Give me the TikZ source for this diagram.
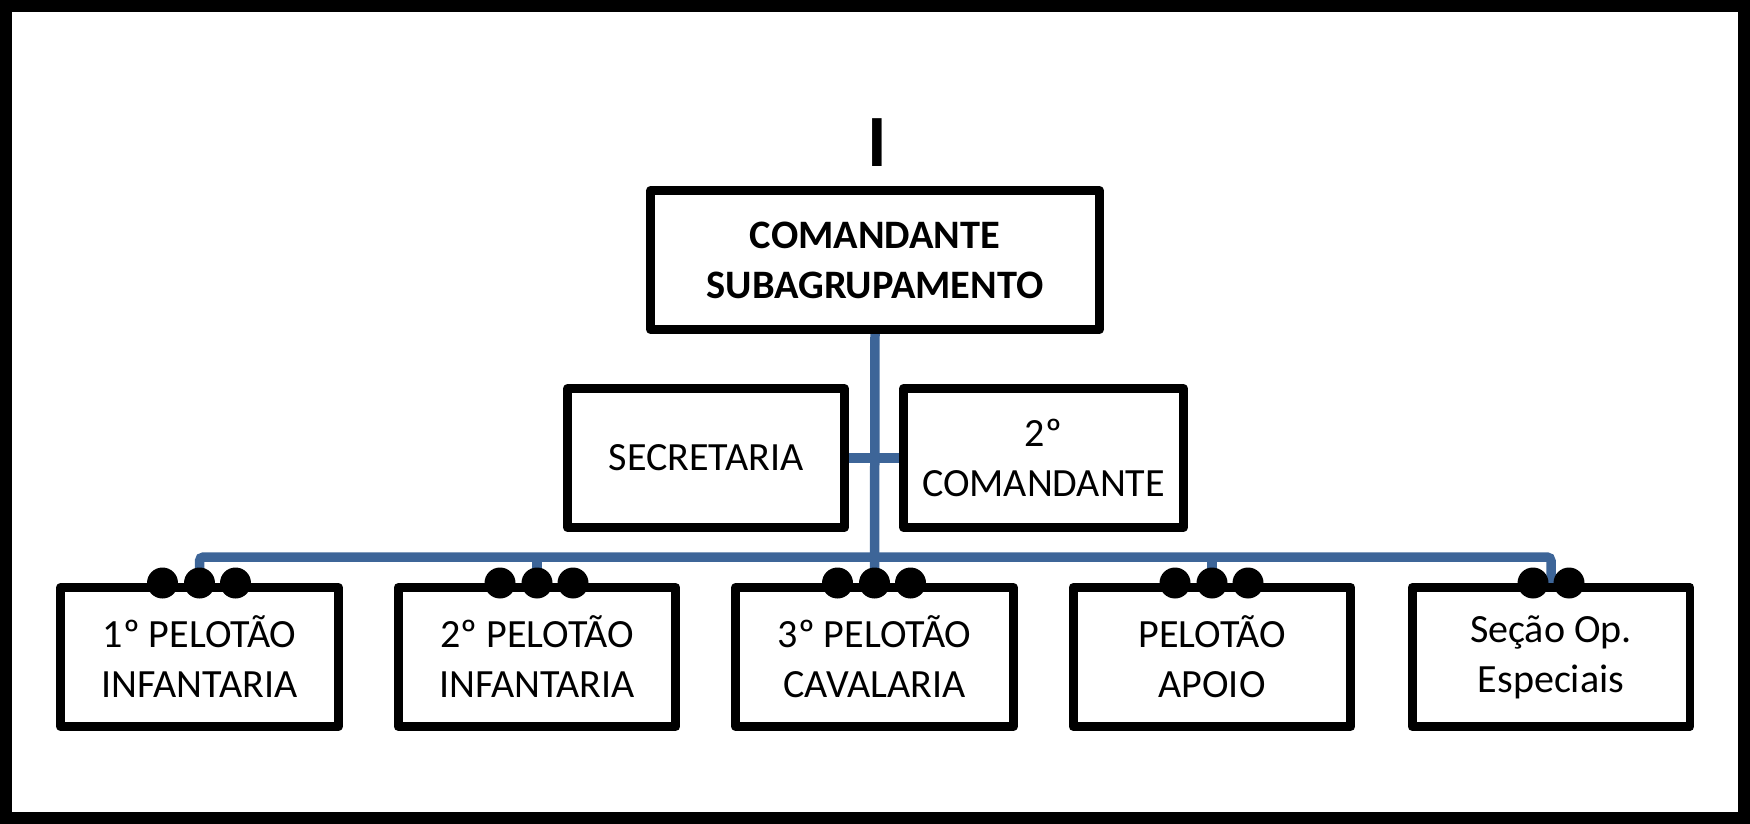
\documentclass[tikz,border=0pt]{standalone}
\usepackage{fontspec}
\setmainfont{Carlito}
\usetikzlibrary{backgrounds}
\definecolor{linkblue}{RGB}{61,101,152}
\tikzset{
  box/.style={draw, line width=0.18cm, line join=round, fill=white, align=center,
    inner sep=0pt, outer sep=0pt, minimum height=2.78cm,
    font=\fontsize{22.8}{28.5}\selectfont},
  unit/.style={box, minimum width=5.56cm},
  link/.style={linkblue, line width=0.19cm},
  pip/.style={circle, fill=black, inner sep=0pt, minimum size=0.62cm},
}
\begin{document}
\begin{tikzpicture}[x=0.02cm, y=-0.02cm]
  \useasboundingbox (0,0) rectangle (1750,824);
  \draw[line width=0.24cm] (6,6) rectangle (1744,818);
  \node[inner sep=0pt, font=\fontsize{42}{42}\selectfont\bfseries] (echelon) at (877,142.5) {I};
  \node[box, minimum width=8.98cm, font=\fontsize{23}{28.5}\selectfont\bfseries] (cmd) at (875,260) {COMANDANTE\\SUBAGRUPAMENTO};
  \node[box, minimum width=5.54cm] (sec) at (706,458) {SECRETARIA};
  \node[box, minimum width=5.6cm] (sub) at (1043.5,458) {2º\\COMANDANTE};
  \foreach \name/\x/\txt in {b1/199.5/{1º PELOTÃO\\INFANTARIA},
      b2/537/{2º PELOTÃO\\INFANTARIA}, b3/874.5/{3º PELOTÃO\\CAVALARIA},
      b4/1212/{PELOTÃO\\APOIO}, b5/1551/{Seção Op.\\Especiais}}
    \node[unit] (\name) at (\x,657) {\txt};
  \foreach \x in {199.5,537,874.5,1212}
    \foreach \d in {-37,0,36}
      \node[pip] at (\x+\d,583) {};
  \node[pip] (p51) at (1533,583) {};
  \node[pip] (p52) at (1569,583) {};
  \coordinate (bus) at (875,557);
  \begin{scope}[on background layer]
    \draw[link] (cmd.south) -- (b3.north);
    \draw[link] (sec.east) -- (sub.west);
    \draw[link, rounded corners=0.08cm] (b1.north) |- (bus) -| (b5.north);
    \draw[link] (b2.north) -- (b2.north |- bus);
    \draw[link] (b4.north) -- (b4.north |- bus);
  \end{scope}
\end{tikzpicture}
\end{document}
